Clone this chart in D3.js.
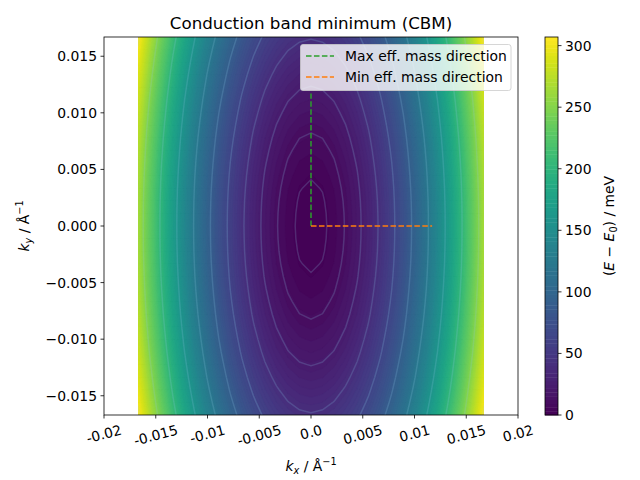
<!DOCTYPE html>
<html><head><meta charset="utf-8">
<script src="https://cdn.jsdelivr.net/npm/d3@7"></script>
<style>body{margin:0;background:#fff} text{font-family:"DejaVu Sans";fill:#000}</style>
</head><body><svg id="c" width="640" height="480"></svg>
<script>
// ---- data ----
const kxGrid = [-0.0167,-0.01559,-0.01447,-0.01336,-0.01225,-0.01113,-0.01002,-0.00891,-0.00779,-0.00668,-0.00557,-0.00445,-0.00334,-0.00223,-0.00111,0,0.00111,0.00223,0.00334,0.00445,0.00557,0.00668,0.00779,0.00891,0.01002,0.01113,0.01225,0.01336,0.01447,0.01559,0.0167];
const kyGrid = [-0.0167,-0.01559,-0.01447,-0.01336,-0.01225,-0.01113,-0.01002,-0.00891,-0.00779,-0.00668,-0.00557,-0.00445,-0.00334,-0.00223,-0.00111,0,0.00111,0.00223,0.00334,0.00445,0.00557,0.00668,0.00779,0.00891,0.01002,0.01113,0.01225,0.01336,0.01447,0.01559,0.0167];
// energy (meV) along kx at ky = 0 and along ky at kx = 0
const energyAlongKx = [265,230.8,199.0,169.6,142.5,117.8,95.4,75.4,57.7,42.4,29.4,18.8,10.6,4.7,1.2,0,1.2,4.7,10.6,18.8,29.4,42.4,57.7,75.4,95.4,117.8,142.5,169.6,199.0,230.8,265];
const energyAlongKy = [41,35.7,30.8,26.2,22.1,18.2,14.8,11.7,8.9,6.6,4.6,2.9,1.6,0.7,0.2,0,0.2,0.7,1.6,2.9,4.6,6.6,8.9,11.7,14.8,18.2,22.1,26.2,30.8,35.7,41];
const energyMax = 307;
const lineLevels = [2.5,10,22.5,40,62.5,90,122.5,160,202.5,250,302.5];
const xTicks = [-0.02,-0.015,-0.01,-0.005,0,0.005,0.01,0.015,0.02];
const xTickLabels = ["-0.02","-0.015","-0.01","-0.005","0.0","0.005","0.01","0.015","0.02"];
const yTicks = [-0.015,-0.01,-0.005,0,0.005,0.01,0.015];
const cbarTicks = [0,50,100,150,200,250,300];
const maxDirEnd = [0, 0.0117];
const minDirEnd = [0.0117, 0];
const legendLabels = ["Max eff. mass direction","Min eff. mass direction"];
const legendColors = ["#2ca02c","#ff7f0e"];

// ---- layout ----
const svg = d3.select("#c");
const L=104,R=518,T=37,B=415;
const x = d3.scaleLinear().domain([-0.02,0.02]).range([L,R]);
const y = d3.scaleLinear().domain([kyGrid[0], kyGrid[kyGrid.length-1]]).range([B,T]);
const nx = kxGrid.length, ny = kyGrid.length;
const values = new Array(nx*ny);
for (let j=0;j<ny;j++) for (let i=0;i<nx;i++) values[j*nx+i] = energyAlongKx[i] + energyAlongKy[j];
const gx = d3.scaleLinear().domain([0.5, nx-0.5]).range([kxGrid[0], kxGrid[nx-1]]);
const gy = d3.scaleLinear().domain([0.5, ny-0.5]).range([kyGrid[0], kyGrid[ny-1]]);
const proj = d3.geoTransform({point(px,py){ this.stream.point(x(gx(px)), y(gy(py))); }});
const path = d3.geoPath(proj);
const color = d3.scaleSequential(d3.interpolateViridis).domain([0, energyMax]);
const nLev = 100, step = energyMax/nLev;
const fillLevels = d3.range(nLev).map(k => k*step);

svg.append("clipPath").attr("id","dclip").append("rect")
  .attr("x", x(kxGrid[0])).attr("y", T).attr("width", x(kxGrid[nx-1]) - x(kxGrid[0])).attr("height", B-T);

const gFill = svg.append("g").attr("clip-path","url(#dclip)");
const fills = d3.contours().size([nx,ny]).thresholds(fillLevels)(values);
gFill.selectAll("path.f").data(fills).join("path").attr("class","f")
  .attr("d", path).attr("fill", d => color(d.value + step/2))
  .attr("stroke", d => color(d.value + step/2)).attr("stroke-width",0.3);
const lines = d3.contours().size([nx,ny]).thresholds(lineLevels)(values);
gFill.selectAll("path.l").data(lines).join("path").attr("class","l")
  .attr("d", path).attr("fill","none").attr("stroke","#8cc8e6").attr("stroke-opacity",0.2).attr("stroke-width",1.5);

// direction lines
svg.append("line").attr("x1",x(0)).attr("y1",y(0)).attr("x2",x(maxDirEnd[0])).attr("y2",y(maxDirEnd[1]))
  .attr("stroke",legendColors[0]).attr("stroke-width",1.5).attr("stroke-dasharray","5.55,2.4");
svg.append("line").attr("x1",x(0)).attr("y1",y(0)).attr("x2",x(minDirEnd[0])).attr("y2",y(minDirEnd[1]))
  .attr("stroke",legendColors[1]).attr("stroke-width",1.5).attr("stroke-dasharray","5.55,2.4");

// axes frame
svg.append("rect").attr("x",L).attr("y",T).attr("width",R-L).attr("height",B-T)
  .attr("fill","none").attr("stroke","#000").attr("stroke-width",0.8);

const fs = 13.9;
// x ticks
xTicks.forEach((t,k) => {
  const px = x(t);
  svg.append("line").attr("x1",px).attr("x2",px).attr("y1",B).attr("y2",B+3.5).attr("stroke","#000").attr("stroke-width",0.8);
  const tx = svg.append("text").attr("font-size",fs).attr("text-anchor","middle").text(xTickLabels[k]);
  const w = tx.node().getComputedTextLength();
  const a = 15*Math.PI/180;
  const h = w*Math.sin(a) + 13*Math.cos(a);
  const cy = B + 8 + h/2;
  tx.attr("x",px).attr("y",cy).attr("dy","0.36em").attr("transform",`rotate(-15,${px},${cy})`);
});
// y ticks
const yfmt = d3.format(".3f");
yTicks.forEach(t => {
  const py = y(t);
  svg.append("line").attr("x1",L-3.5).attr("x2",L).attr("y1",py).attr("y2",py).attr("stroke","#000").attr("stroke-width",0.8);
  svg.append("text").attr("font-size",fs).attr("text-anchor","end").attr("x",L-7).attr("y",py).attr("dy","0.36em").text(yfmt(t));
});

// title
svg.append("text").attr("x",(L+R)/2).attr("y",29).attr("text-anchor","middle").attr("font-size",16.7).text("Conduction band minimum (CBM)");

// x label
const xl = svg.append("text").attr("x",(L+R)/2).attr("y",471).attr("text-anchor","middle").attr("font-size",fs);
xl.append("tspan").attr("font-style","italic").text("k");
xl.append("tspan").attr("font-style","italic").attr("font-size",fs*0.7).attr("dy",2.5).text("x");
xl.append("tspan").attr("dy",-2.5).text(" / Å");
xl.append("tspan").attr("font-size",fs*0.7).attr("dy",-6).text("−1");
// y label
const yl = svg.append("text").attr("transform","translate(29,226) rotate(-90)").attr("text-anchor","middle").attr("font-size",fs);
yl.append("tspan").attr("font-style","italic").text("k");
yl.append("tspan").attr("font-style","italic").attr("font-size",fs*0.7).attr("dy",2.5).text("y");
yl.append("tspan").attr("dy",-2.5).text(" / Å");
yl.append("tspan").attr("font-size",fs*0.7).attr("dy",-6).text("−1");

// legend
const lg = svg.append("g");
lg.append("rect").attr("x",300.5).attr("y",44.5).attr("width",210.5).attr("height",46).attr("rx",2.5)
  .attr("fill","#fff").attr("fill-opacity",0.8).attr("stroke","#cccccc").attr("stroke-width",0.8);
legendLabels.forEach((lab,k) => {
  const ly = 56 + k*21;
  lg.append("line").attr("x1",306).attr("x2",334).attr("y1",ly).attr("y2",ly).attr("stroke",legendColors[k]).attr("stroke-width",1.5).attr("stroke-dasharray","5.55,2.4");
  lg.append("text").attr("x",345).attr("y",ly+5).attr("font-size",fs).text(lab);
});

// colorbar
const CL=545, CR=558;
const cy = d3.scaleLinear().domain([0,energyMax]).range([B,T]);
const cb = svg.append("g");
fillLevels.forEach(v => {
  cb.append("rect").attr("x",CL).attr("width",CR-CL).attr("y",cy(v+step)).attr("height",cy(v)-cy(v+step)+0.4).attr("fill",color(v+step/2));
});
cb.append("rect").attr("x",CL).attr("y",T).attr("width",CR-CL).attr("height",B-T).attr("fill","none").attr("stroke","#000").attr("stroke-width",0.8);
cbarTicks.forEach(t => {
  const py = cy(t);
  cb.append("line").attr("x1",CR).attr("x2",CR+3.5).attr("y1",py).attr("y2",py).attr("stroke","#000").attr("stroke-width",0.8);
  cb.append("text").attr("x",CR+7).attr("y",py).attr("dy","0.36em").attr("font-size",fs).text(t);
});
const cl = svg.append("text").attr("transform","translate(614,226) rotate(-90)").attr("text-anchor","middle").attr("font-size",fs);
cl.append("tspan").text("(");
cl.append("tspan").attr("font-style","italic").text("E");
cl.append("tspan").text(" − ");
cl.append("tspan").attr("font-style","italic").text("E");
cl.append("tspan").attr("font-size",fs*0.7).attr("dy",2.5).text("0");
cl.append("tspan").attr("dy",-2.5).text(") / meV");
</script></body></html>
